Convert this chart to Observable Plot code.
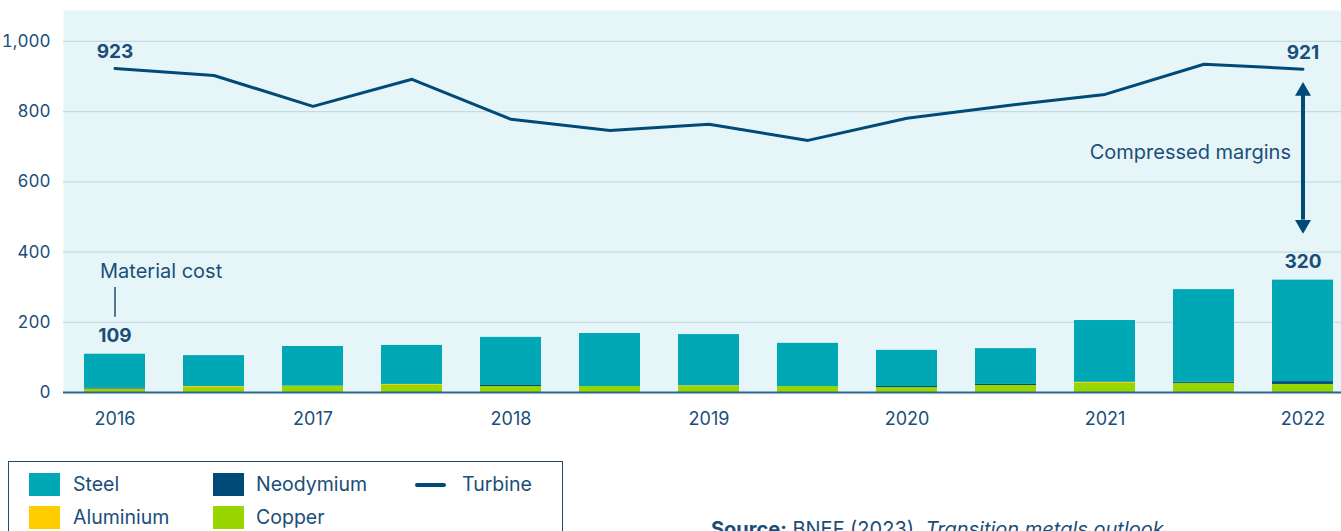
<!DOCTYPE html>
<html>
<head>
<meta charset="utf-8">
<script src="https://cdn.jsdelivr.net/npm/d3@7"></script>
<script src="https://cdn.jsdelivr.net/npm/@observablehq/plot@0.6"></script>
<style>
  html, body { margin: 0; padding: 0; background: #ffffff; overflow: hidden; }
  body { width: 1341px; height: 531px; position: relative; font-family: Inter, "Noto Sans", sans-serif; color: #1a4e78; }
  #chart { position: absolute; left: 0; top: 0; }
  .legend-box { position: absolute; left: 8px; top: 461px; width: 555px; height: 100px; border: 1px solid #1a4e78; box-sizing: border-box; }
  .sw { position: absolute; width: 31px; height: 23px; }
  .lt { position: absolute; font-size: 19.5px; line-height: 23px; height: 23px; white-space: nowrap; }
  .ln { position: absolute; width: 31px; height: 4px; border-radius: 2px; background: #004a78; }
  .source { position: absolute; left: 711px; top: 519px; font-size: 20px; line-height: 20px; white-space: nowrap; }
</style>
</head>
<body>
<div id="chart"></div>
<div class="legend-box"></div>
<div id="legend"></div>
<div class="source"><b>Source:</b> BNEF (2023), <i>Transition metals outlook</i></div>
<script>
// ---- data ----
const periods = ["2016","2016 H2","2017","2017 H2","2018","2018 H2","2019","2019 H2","2020","2020 H2","2021","2021 H2","2022"];
const yearTicks = ["2016","2017","2018","2019","2020","2021","2022"];
const yTicks = [0, 200, 400, 600, 800, 1000];
const materials = ["Copper", "Aluminium", "Neodymium", "Steel"];
const materialColors = ["#99d600", "#ffcc00", "#004a78", "#00a8b5"];
const copper    = [10, 14, 17, 20, 17, 17, 17, 17, 14, 20, 26, 26, 23];
const aluminium = [ 0,  3,  1,  3,  0,  0,  2,  0,  0,  0,  3,  0,  0];
const neodymium = [ 3,  0,  0,  0,  3,  0,  0,  0,  3,  3,  0,  3,  8];
const steel     = [96, 88, 113, 111, 137, 151, 146, 123, 103, 102, 176, 264, 289];
const turbine   = [923, 903, 815, 892, 778, 746, 764, 718, 781, 817, 849, 935, 921];
const costLabelPeriods = ["2016", "2022"];
const costLabelValues  = [109, 320];
const legendItems = ["Steel", "Neodymium", "Turbine", "Aluminium", "Copper"];

// ---- build tables ----
const series = {Copper: copper, Aluminium: aluminium, Neodymium: neodymium, Steel: steel};
const stackRows = [];
periods.forEach((p, i) => materials.forEach(m => stackRows.push({period: p, material: m, value: series[m][i]})));
const lineRows = periods.map((p, i) => ({period: p, value: turbine[i]}));
const costRows = costLabelPeriods.map((p, i) => ({period: p, value: costLabelValues[i]}));
const turbineEnds = [lineRows[0], lineRows[lineRows.length - 1]];
const lastP = periods[periods.length - 1];
const lastT = turbine[turbine.length - 1];
const lastC = costLabelValues[costLabelValues.length - 1];

const navy = "#004a78";
const textColor = "#1a4e78";

const chart = Plot.plot({
  width: 1341,
  height: 440,
  marginLeft: 63,
  marginRight: 0,
  marginTop: 10,
  marginBottom: 48,
  style: {fontFamily: "Inter, 'Noto Sans', sans-serif", fontSize: "18px", color: textColor, background: "transparent"},
  x: {type: "band", domain: periods, paddingInner: 0.384, paddingOuter: 0.1465, align: 0.724, label: null},
  y: {domain: [0, 1088], label: null},
  color: {domain: materials, range: materialColors},
  marks: [
    Plot.frame({fill: "#e6f6f8", stroke: "none"}),
    Plot.gridY(yTicks, {stroke: "#c3dce4", strokeOpacity: 1, strokeWidth: 1.2}),
    Plot.barY(stackRows, {x: "period", y: "value", fill: "material", order: materials}),
    Plot.ruleY([0], {stroke: "#2a6690", strokeWidth: 2}),
    Plot.axisY({ticks: yTicks, tickSize: 0, tickPadding: 13, tickFormat: d3.format(","), fontSize: 17, label: null}),
    Plot.axisX({ticks: yearTicks, tickSize: 0, tickPadding: 20, fontSize: 18, label: null}),
    Plot.line(lineRows, {x: "period", y: "value", stroke: navy, strokeWidth: 3}),
    Plot.text(turbineEnds, {x: "period", y: "value", text: d => String(d.value), dy: -16.5, fontSize: 19, fontWeight: 700, fill: textColor}),
    Plot.text(costRows, {x: "period", y: "value", text: d => String(d.value), dy: -18, fontSize: 19, fontWeight: 700, fill: textColor}),
    // material cost annotation
    Plot.ruleX([periods[0]], {y1: turbine[0], y2: costLabelValues[0], stroke: textColor, strokeWidth: 1.5, insetTop: 219, insetBottom: 37}),
    Plot.text([periods[0]], {x: d => d, y: costLabelValues[0], text: ["Material cost"], dy: -83, dx: -15, textAnchor: "start", fontSize: 20, fill: textColor}),
    // compressed margins double arrow
    Plot.ruleX([lastP], {y1: lastT, y2: lastC, stroke: navy, strokeWidth: 4, insetTop: 26, insetBottom: 60}),
    Plot.dot([lastP], {x: d => d, y: lastT, symbol: "triangle", r: 5.94, fill: navy, stroke: "none", dy: 22}),
    Plot.dot([lastP], {x: d => d, y: lastC, symbol: "triangle", r: 5.94, fill: navy, stroke: "none", rotate: 180, dy: -55.6}),
    Plot.text([lastP], {x: d => d, y: (lastT + lastC) / 2, text: ["Compressed margins"], dy: -22, dx: -12, textAnchor: "end", fontSize: 20, fill: textColor})
  ]
});
document.getElementById("chart").appendChild(chart);

// ---- legend (HTML) ----
const legendPos = {
  Steel:     {x: 29,  y: 473, tx: 73},
  Neodymium: {x: 213, y: 473, tx: 256},
  Turbine:   {x: 415, y: 473, tx: 462},
  Aluminium: {x: 29,  y: 506, tx: 73},
  Copper:    {x: 213, y: 506, tx: 256}
};
const leg = document.getElementById("legend");
legendItems.forEach(name => {
  const p = legendPos[name];
  const idx = materials.indexOf(name);
  const mark = document.createElement("div");
  if (idx >= 0) {
    mark.className = "sw";
    mark.style.left = p.x + "px"; mark.style.top = p.y + "px";
    mark.style.background = materialColors[idx];
  } else {
    mark.className = "ln";
    mark.style.left = p.x + "px"; mark.style.top = (p.y + 9.5) + "px";
  }
  leg.appendChild(mark);
  const t = document.createElement("div");
  t.className = "lt";
  t.style.left = p.tx + "px"; t.style.top = p.y + "px";
  t.textContent = name;
  leg.appendChild(t);
});
</script>
</body>
</html>
